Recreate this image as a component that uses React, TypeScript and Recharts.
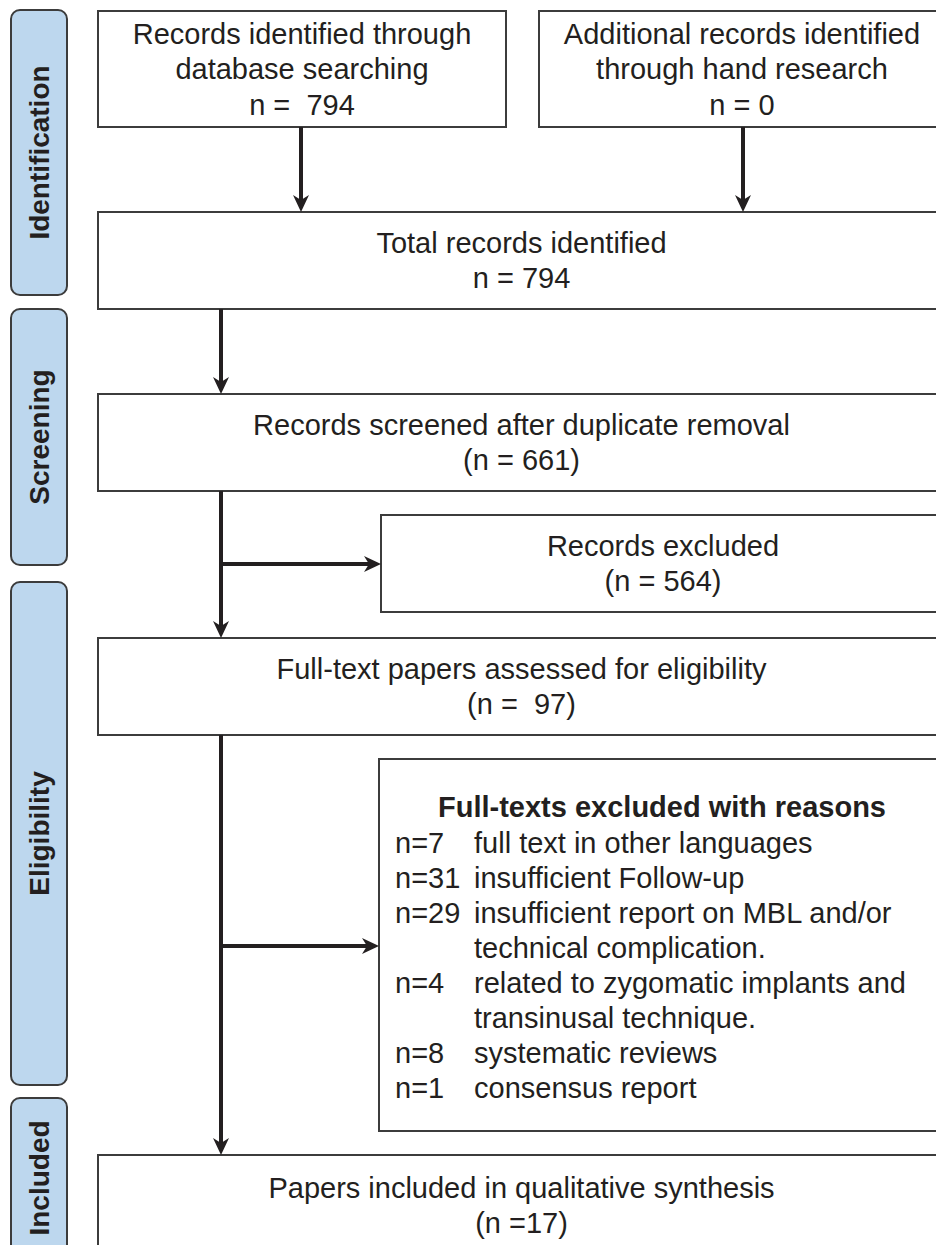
import React from 'react';
import { ComposedChart, XAxis, YAxis, ReferenceArea, ReferenceLine } from 'recharts';

// PRISMA flow: phases down the left side, one box per step
const STAGES = ['Identification', 'Screening', 'Eligibility', 'Included'];

const BOX_TEXT = [
    ['Records identified through', 'database searching'],
    ['Additional records identified', 'through hand research'],
    ['Total records identified'],
    ['Records screened after duplicate removal'],
    ['Records excluded'],
    ['Full-text papers assessed for eligibility'],
    ['Papers included in qualitative synthesis'],
];
const BOX_COUNTS = [794, 0, 794, 661, 564, 97, 17];
const COUNT_FORMAT = ['n =  #', 'n = #', 'n = #', '(n = #)', '(n = #)', '(n =  #)', '(n =#)'];

const EXCLUSION_TITLE = 'Full-texts excluded with reasons';
const EXCLUSION_COUNTS = [7, 31, 29, 4, 8, 1];
const EXCLUSION_REASONS = [
    ['full text in other languages'],
    ['insufficient Follow-up'],
    ['insufficient report on MBL and/or', 'technical complication.'],
    ['related to zygomatic implants and', 'transinusal technique.'],
    ['systematic reviews'],
    ['consensus report'],
];

// layout (page pixels)
const W = 936;
const H = 1245;
const FONT = '"Liberation Sans", Arial, Helvetica, sans-serif';
const INK = '#231f20';
const EDGE = '#3c3c3c';
const STAGE_FILL = '#bdd7ee';
const LINE_H = 35.5;

const STAGE_X = [11, 67];
const STAGE_Y = [[10, 295], [309, 565], [582, 1085], [1098, 1258]];

const BOX_POS = [
    [98, 506, 11, 127],
    [539, 945, 11, 127],
    [98, 945, 212, 309],
    [98, 945, 394, 491],
    [381, 945, 515, 612],
    [98, 945, 638, 735],
    [98, 945, 1155, 1256],
];
const REASON_BOX = [379, 945, 759, 1131];

// [x1, y1, x2, y2]
const ARROWS = [
    [301, 127, 301, 212],
    [743, 127, 743, 212],
    [221, 309, 221, 394],
    [221, 491, 221, 638],
    [221, 564, 381, 564],
    [221, 735, 221, 1155],
    [221, 946, 379, 946],
];

const formatCount = (i: number) => COUNT_FORMAT[i].replace('#', String(BOX_COUNTS[i]));

const Arrow = (p: any) => {
    const { x1, y1, x2, y2 } = p;
    const len = Math.hypot(x2 - x1, y2 - y1) || 1;
    const ux = (x2 - x1) / len;
    const uy = (y2 - y1) / len;
    const head = 17;
    const half = 8;
    const bx = x2 - ux * head;
    const by = y2 - uy * head;
    const pts = [
        [x2, y2],
        [bx - uy * half, by + ux * half],
        [x2 - ux * (head - 5), y2 - uy * (head - 5)],
        [bx + uy * half, by - ux * half],
    ].map((q) => q.join(',')).join(' ');
    return (
        <g>
            <line x1={x1} y1={y1} x2={x2 - ux * 8} y2={y2 - uy * 8} stroke={INK} strokeWidth={4} />
            <polygon points={pts} fill={INK} />
        </g>
    );
};

const boxLabel = (lines: string[]) => (props: any) => {
    const vb = props.viewBox;
    const cx = vb.x + vb.width / 2;
    const cy = vb.y + vb.height / 2;
    return (
        <text textAnchor="middle" fontFamily={FONT} fontSize={29} fill={INK} style={{ whiteSpace: 'pre' }}>
            {lines.map((l, i) => (
                <tspan key={i} x={cx} y={cy + (i - (lines.length - 1) / 2) * LINE_H} dominantBaseline="central">
                    {l}
                </tspan>
            ))}
        </text>
    );
};

const stageLabel = (name: string) => (props: any) => {
    const vb = props.viewBox;
    const cx = vb.x + vb.width / 2;
    const cy = vb.y + vb.height / 2;
    return (
        <text
            x={cx}
            y={cy}
            dy={10}
            textAnchor="middle"
            fontFamily={FONT}
            fontSize={28}
            fontWeight="bold"
            fill={INK}
            transform={`rotate(-90 ${cx} ${cy})`}
        >
            {name}
        </text>
    );
};

const reasonsLabel = (props: any) => {
    const vb = props.viewBox;
    const rows: { n: string; text: string }[] = [];
    EXCLUSION_REASONS.forEach((lines, i) => {
        lines.forEach((t, j) => rows.push({ n: j === 0 ? `n=${EXCLUSION_COUNTS[i]}` : '', text: t }));
    });
    return (
        <g fontFamily={FONT} fontSize={29} fill={INK}>
            <text x={vb.x + vb.width / 2} y={vb.y + 48} textAnchor="middle" fontWeight="bold" dominantBaseline="central">
                {EXCLUSION_TITLE}
            </text>
            {rows.map((r, i) => (
                <g key={i}>
                    <text x={vb.x + 16} y={vb.y + 84 + i * 35} dominantBaseline="central">{r.n}</text>
                    <text x={vb.x + 95} y={vb.y + 84 + i * 35} dominantBaseline="central">{r.text}</text>
                </g>
            ))}
        </g>
    );
};

const roundedRect = (p: any) => (
    <rect x={p.x} y={p.y} width={p.width} height={p.height} rx={9} ry={9} fill={STAGE_FILL} stroke={EDGE} strokeWidth={2} />
);

const plainRect = (p: any) => (
    <rect x={p.x} y={p.y} width={p.width} height={p.height} fill="#ffffff" stroke={EDGE} strokeWidth={2} />
);

export default function App() {
    return (
        <div style={{ position: 'absolute', left: 0, top: 0, width: W, height: H, background: '#fff' }}>
            <ComposedChart width={W} height={H} data={[]} margin={{ top: 0, right: 0, bottom: 0, left: 0 }}>
                <XAxis type="number" dataKey="x" domain={[0, W]} allowDataOverflow hide />
                <YAxis type="number" dataKey="y" domain={[0, H]} allowDataOverflow reversed hide width={0} />

                {STAGES.map((s, i) => (
                    <ReferenceArea
                        key={s}
                        x1={STAGE_X[0]}
                        x2={STAGE_X[1]}
                        y1={STAGE_Y[i][0]}
                        y2={STAGE_Y[i][1]}
                        ifOverflow="visible"
                        shape={roundedRect}
                        label={stageLabel(s)}
                    />
                ))}

                {BOX_TEXT.map((lines, i) => (
                    <ReferenceArea
                        key={`box-${i}`}
                        x1={BOX_POS[i][0]}
                        x2={BOX_POS[i][1]}
                        y1={BOX_POS[i][2]}
                        y2={BOX_POS[i][3]}
                        ifOverflow="visible"
                        shape={plainRect}
                        label={boxLabel([...lines, formatCount(i)])}
                    />
                ))}

                <ReferenceArea
                    x1={REASON_BOX[0]}
                    x2={REASON_BOX[1]}
                    y1={REASON_BOX[2]}
                    y2={REASON_BOX[3]}
                    ifOverflow="visible"
                    shape={plainRect}
                    label={reasonsLabel}
                />

                {ARROWS.map((a, i) => (
                    <ReferenceLine
                        key={`arrow-${i}`}
                        segment={[{ x: a[0], y: a[1] }, { x: a[2], y: a[3] }]}
                        ifOverflow="visible"
                        shape={Arrow}
                    />
                ))}
            </ComposedChart>
        </div>
    );
}
